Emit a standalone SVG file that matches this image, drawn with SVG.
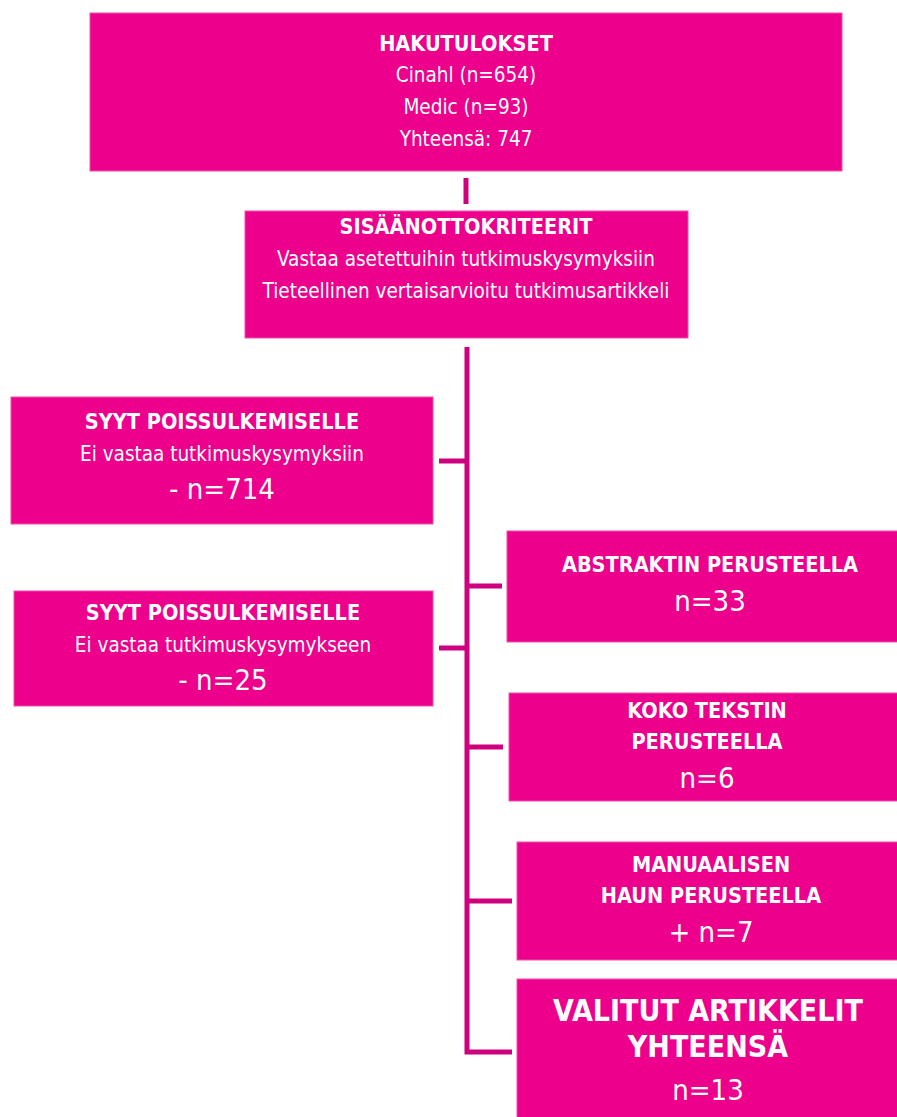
<svg xmlns="http://www.w3.org/2000/svg" width="897" height="1117" viewBox="0 0 897 1117">
<style>
.box{fill:#EC008C;stroke:#F050A8;stroke-width:1}
.t{font-family:"DejaVu Sans Condensed","DejaVu Sans",sans-serif;fill:#fff;text-anchor:middle;font-size:20.5px}
.b{font-weight:bold;font-size:21.5px}
.big{font-size:29px}
.xl{font-size:30px;font-weight:bold}
.c{stroke:#CF007E;stroke-width:5;fill:none}
</style>
<rect width="897" height="1117" fill="#fff"/>
<g id="connectors">
<line class="c" x1="466" y1="178" x2="466" y2="204"/>
<polyline class="c" points="467,347 467,1052 512,1052"/>
<line class="c" x1="439" y1="461" x2="467" y2="461"/>
<line class="c" x1="439" y1="648" x2="467" y2="648"/>
<line class="c" x1="467" y1="586" x2="502" y2="586"/>
<line class="c" x1="467" y1="747" x2="503" y2="747"/>
<line class="c" x1="467" y1="901" x2="512" y2="901"/>
</g>
<g id="hakutulokset">
<rect class="box" x="90" y="13" width="752" height="158"/>
<text class="t b" x="466" y="51">HAKUTULOKSET</text>
<text class="t" x="466" y="82">Cinahl (n=654)</text>
<text class="t" x="466" y="114">Medic (n=93)</text>
<text class="t" x="466" y="146">Yhteensä: 747</text>
</g>
<g id="sisaanotto">
<rect class="box" x="245" y="211" width="443" height="127"/>
<text class="t b" x="466" y="234">SISÄÄNOTTOKRITEERIT</text>
<text class="t" x="466" y="266">Vastaa asetettuihin tutkimuskysymyksiin</text>
<text class="t" x="466" y="298">Tieteellinen vertaisarvioitu tutkimusartikkeli</text>
</g>
<g id="syyt1">
<rect class="box" x="11" y="397" width="422" height="127"/>
<text class="t b" x="222" y="429">SYYT POISSULKEMISELLE</text>
<text class="t" x="222" y="461">Ei vastaa tutkimuskysymyksiin</text>
<text class="t big" x="222" y="499">- n=714</text>
</g>
<g id="syyt2">
<rect class="box" x="14" y="591" width="419" height="115"/>
<text class="t b" x="223" y="620">SYYT POISSULKEMISELLE</text>
<text class="t" x="223" y="652">Ei vastaa tutkimuskysymykseen</text>
<text class="t big" x="223" y="690">- n=25</text>
</g>
<g id="abstraktin">
<rect class="box" x="507" y="531" width="395" height="111"/>
<text class="t b" x="710" y="572">ABSTRAKTIN PERUSTEELLA</text>
<text class="t big" x="710" y="611">n=33</text>
</g>
<g id="koko">
<rect class="box" x="509" y="693" width="393" height="108"/>
<text class="t b" x="707" y="718">KOKO TEKSTIN</text>
<text class="t b" x="707" y="749">PERUSTEELLA</text>
<text class="t big" x="707" y="788">n=6</text>
</g>
<g id="manuaalisen">
<rect class="box" x="517" y="842" width="385" height="118"/>
<text class="t b" x="711" y="872">MANUAALISEN</text>
<text class="t b" x="711" y="903">HAUN PERUSTEELLA</text>
<text class="t big" x="711" y="942">+ n=7</text>
</g>
<g id="valitut">
<rect class="box" x="517" y="979" width="385" height="145"/>
<text class="t xl" x="708" y="1021">VALITUT ARTIKKELIT</text>
<text class="t xl" x="708" y="1057">YHTEENSÄ</text>
<text class="t big" x="708" y="1100">n=13</text>
</g>
</svg>
